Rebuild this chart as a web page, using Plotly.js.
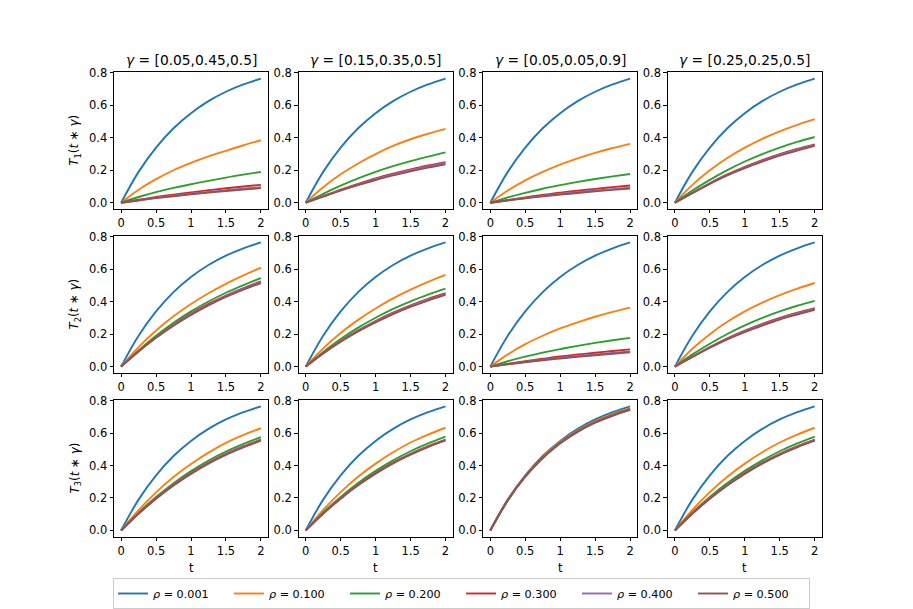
<!DOCTYPE html>
<html>
<head>
<meta charset="utf-8">
<script src="https://cdn.plot.ly/plotly-3.0.1.min.js"></script>
<style>
  html, body { margin: 0; padding: 0; background: #fff; overflow: hidden; width: 913px; height: 609px; }
  #chart { position: absolute; left: 0; top: 0; width: 913px; height: 609px; }
</style>
</head>
<body>
<div id="chart"></div>
<script>
// ─── Data (t grid + one array per panel) ────
const t = [0, 0.25, 0.5, 0.75, 1, 1.25, 1.5, 1.75, 2];

const rhoLabels   = ['0.001', '0.100', '0.200', '0.300', '0.400', '0.500'];
const gammaLabels = ['[0.05,0.45,0.5]', '[0.15,0.35,0.5]', '[0.05,0.05,0.9]', '[0.25,0.25,0.5]'];
const rowLabels   = ['1', '2', '3'];

// ρ = 0.001 curve, same in every panel
const rho001 = [0, 0.190, 0.340, 0.459, 0.552, 0.626, 0.684, 0.729, 0.765];

// row 1 : T1
const r1c1 = [
    rho001,
    [0, 0.080, 0.145, 0.200, 0.245, 0.285, 0.320, 0.354, 0.385],
    [0, 0.035, 0.065, 0.091, 0.114, 0.135, 0.155, 0.173, 0.190],
    [0, 0.018, 0.035, 0.050, 0.064, 0.077, 0.089, 0.100, 0.110],
    [0, 0.015, 0.030, 0.043, 0.055, 0.066, 0.077, 0.086, 0.095],
    [0, 0.014, 0.028, 0.040, 0.052, 0.062, 0.072, 0.081, 0.090]
];
const r1c2 = [
    rho001,
    [0, 0.095, 0.175, 0.242, 0.300, 0.350, 0.391, 0.425, 0.455],
    [0, 0.055, 0.105, 0.150, 0.190, 0.225, 0.256, 0.284, 0.310],
    [0, 0.040, 0.080, 0.116, 0.150, 0.179, 0.205, 0.229, 0.250],
    [0, 0.039, 0.077, 0.112, 0.145, 0.174, 0.200, 0.224, 0.245],
    [0, 0.037, 0.074, 0.108, 0.140, 0.168, 0.193, 0.216, 0.237]
];
const r1c3 = [
    rho001,
    [0, 0.075, 0.138, 0.190, 0.235, 0.273, 0.307, 0.337, 0.363],
    [0, 0.033, 0.061, 0.086, 0.108, 0.128, 0.146, 0.162, 0.177],
    [0, 0.017, 0.033, 0.048, 0.062, 0.074, 0.085, 0.096, 0.106],
    [0, 0.015, 0.029, 0.042, 0.054, 0.065, 0.075, 0.084, 0.093],
    [0, 0.014, 0.027, 0.039, 0.050, 0.060, 0.070, 0.079, 0.088]
];
const r1c4 = [
    rho001,
    [0, 0.110, 0.200, 0.276, 0.340, 0.394, 0.440, 0.480, 0.515],
    [0, 0.075, 0.141, 0.201, 0.254, 0.300, 0.340, 0.375, 0.405],
    [0, 0.061, 0.120, 0.174, 0.221, 0.263, 0.300, 0.332, 0.360],
    [0, 0.060, 0.118, 0.171, 0.217, 0.258, 0.295, 0.327, 0.355],
    [0, 0.059, 0.116, 0.168, 0.213, 0.253, 0.290, 0.321, 0.350]
];

// row 2 : T2
const r2c1 = [
    rho001,
    [0, 0.120, 0.222, 0.310, 0.386, 0.452, 0.510, 0.562, 0.610],
    [0, 0.100, 0.190, 0.270, 0.340, 0.401, 0.455, 0.502, 0.545],
    [0, 0.095, 0.181, 0.258, 0.326, 0.386, 0.438, 0.484, 0.525],
    [0, 0.094, 0.179, 0.255, 0.322, 0.381, 0.434, 0.480, 0.520],
    [0, 0.093, 0.177, 0.252, 0.318, 0.377, 0.429, 0.474, 0.515]
];
const r2c2 = [
    rho001,
    [0, 0.112, 0.207, 0.288, 0.358, 0.420, 0.474, 0.522, 0.565],
    [0, 0.090, 0.170, 0.240, 0.301, 0.355, 0.402, 0.443, 0.480],
    [0, 0.083, 0.157, 0.223, 0.281, 0.332, 0.377, 0.417, 0.452],
    [0, 0.082, 0.155, 0.220, 0.277, 0.328, 0.373, 0.412, 0.447],
    [0, 0.081, 0.153, 0.217, 0.273, 0.324, 0.368, 0.407, 0.442]
];
const r2c3 = [
    rho001,
    [0, 0.075, 0.138, 0.190, 0.235, 0.273, 0.307, 0.337, 0.363],
    [0, 0.033, 0.061, 0.086, 0.108, 0.128, 0.146, 0.162, 0.177],
    [0, 0.017, 0.033, 0.048, 0.062, 0.074, 0.085, 0.096, 0.106],
    [0, 0.015, 0.029, 0.042, 0.054, 0.065, 0.075, 0.084, 0.093],
    [0, 0.014, 0.027, 0.039, 0.050, 0.060, 0.070, 0.079, 0.088]
];
const r2c4 = [
    rho001,
    [0, 0.110, 0.200, 0.276, 0.340, 0.394, 0.440, 0.480, 0.515],
    [0, 0.075, 0.141, 0.201, 0.254, 0.300, 0.340, 0.375, 0.405],
    [0, 0.061, 0.120, 0.174, 0.221, 0.263, 0.300, 0.332, 0.360],
    [0, 0.060, 0.118, 0.171, 0.217, 0.258, 0.295, 0.327, 0.355],
    [0, 0.059, 0.116, 0.168, 0.213, 0.253, 0.290, 0.321, 0.350]
];

// row 3 : T3
const r3c1 = [
    rho001,
    [0, 0.125, 0.235, 0.330, 0.410, 0.480, 0.540, 0.589, 0.630],
    [0, 0.110, 0.206, 0.291, 0.366, 0.431, 0.486, 0.533, 0.575],
    [0, 0.105, 0.199, 0.282, 0.355, 0.418, 0.472, 0.519, 0.560],
    [0, 0.104, 0.197, 0.280, 0.352, 0.415, 0.469, 0.516, 0.557],
    [0, 0.103, 0.195, 0.277, 0.349, 0.412, 0.466, 0.512, 0.553]
];
const r3c2 = [
    rho001,
    [0, 0.126, 0.236, 0.331, 0.412, 0.482, 0.542, 0.591, 0.633],
    [0, 0.111, 0.207, 0.292, 0.367, 0.432, 0.488, 0.536, 0.578],
    [0, 0.105, 0.199, 0.282, 0.355, 0.418, 0.472, 0.519, 0.560],
    [0, 0.104, 0.197, 0.280, 0.352, 0.415, 0.469, 0.516, 0.557],
    [0, 0.103, 0.196, 0.278, 0.350, 0.413, 0.467, 0.514, 0.555]
];
const r3c3 = [
    rho001,
    [0, 0.188, 0.336, 0.453, 0.545, 0.617, 0.674, 0.718, 0.754],
    [0, 0.187, 0.334, 0.450, 0.541, 0.613, 0.669, 0.713, 0.749],
    [0, 0.186, 0.333, 0.448, 0.539, 0.611, 0.667, 0.711, 0.746],
    [0, 0.186, 0.332, 0.447, 0.538, 0.610, 0.666, 0.709, 0.745],
    [0, 0.185, 0.331, 0.446, 0.537, 0.608, 0.664, 0.707, 0.743]
];
const r3c4 = [
    rho001,
    [0, 0.126, 0.236, 0.331, 0.412, 0.482, 0.542, 0.591, 0.633],
    [0, 0.111, 0.207, 0.292, 0.367, 0.432, 0.488, 0.536, 0.578],
    [0, 0.105, 0.199, 0.282, 0.355, 0.418, 0.472, 0.519, 0.560],
    [0, 0.104, 0.197, 0.280, 0.352, 0.415, 0.469, 0.516, 0.557],
    [0, 0.103, 0.195, 0.277, 0.349, 0.412, 0.466, 0.512, 0.553]
];

const panels = [
    [r1c1, r1c2, r1c3, r1c4],
    [r2c1, r2c2, r2c3, r2c4],
    [r3c1, r3c2, r3c3, r3c4]
];

// matplotlib tab10
const COLORS = ['#1f77b4', '#ff7f0e', '#2ca02c', '#d62728', '#9467bd', '#8c564b'];

// ─── Geometry (figure pixels → paper, margins are 0) ──────────────
const W = 913, H = 609;
const COL_LEFT = 114.1, COL_W = 153.8, COL_STEP = 184.6;
const ROW_TOP = 73.1,  ROW_H = 137.9, ROW_STEP = 165.5;
const FONT = 'DejaVu Sans, sans-serif';
const TICK_SIZE = 11.5;

const px = v => v / W;
const py = v => 1 - v / H;

const data = [];
const layout = {
    width: W, height: H,
    margin: { l: 0, r: 0, t: 0, b: 0 },
    paper_bgcolor: '#fff', plot_bgcolor: '#fff',
    font: { family: FONT, size: TICK_SIZE, color: '#000' },
    showlegend: true,
    legend: {
        orientation: 'h', x: px(113), y: py(584), xanchor: 'left', yanchor: 'top',
        bgcolor: '#fff', bordercolor: '#cccccc', borderwidth: 1,
        font: { family: FONT, size: 11.2, color: '#000' },
        entrywidth: 71, entrywidthmode: 'pixels', itemwidth: 30, tracegroupgap: 0
    },
    annotations: []
};

for (let r = 0; r < 3; r++) {
    for (let c = 0; c < 4; c++) {
        const n = r * 4 + c + 1;
        const xk = n === 1 ? 'x' : 'x' + n;
        const yk = n === 1 ? 'y' : 'y' + n;
        const x0 = COL_LEFT + c * COL_STEP, x1 = x0 + COL_W;
        const y0 = ROW_TOP + r * ROW_STEP,  y1 = y0 + ROW_H;

        const common = {
            ticks: 'outside', ticklen: 3.5, tickwidth: 1, tickcolor: '#000',
            showline: true, linecolor: '#000', linewidth: 1, mirror: true,
            showgrid: false, zeroline: false,
            tickfont: { family: FONT, size: TICK_SIZE, color: '#000' }
        };
        layout[xk.replace('x', 'xaxis')] = Object.assign({}, common, {
            domain: [px(x0), px(x1)], anchor: yk,
            range: [-0.1, 2.1], tickvals: [0, 0.5, 1, 1.5, 2], ticktext: ['0', '0.5', '1', '1.5', '2']
        });
        layout[yk.replace('y', 'yaxis')] = Object.assign({}, common, {
            domain: [py(y1), py(y0)], anchor: xk,
            range: [-0.0383, 0.8033], tickvals: [0, 0.2, 0.4, 0.6, 0.8], tickformat: '.1f'
        });

        panels[r][c].forEach((ys, i) => {
            data.push({
                x: t, y: ys, type: 'scatter', mode: 'lines',
                line: { color: COLORS[i], width: 1.9, shape: 'spline' },
                name: `<i>ρ</i> = ${rhoLabels[i]}`,
                legendgroup: 'rho' + i, showlegend: n === 1,
                xaxis: xk, yaxis: yk, hoverinfo: 'skip'
            });
        });

        if (r === 0) {
            layout.annotations.push({
                x: px((x0 + x1) / 2), y: py(y0), xref: 'paper', yref: 'paper',
                xanchor: 'center', yanchor: 'bottom', yshift: 2, showarrow: false,
                text: `<i>γ</i> = ${gammaLabels[c]}`,
                font: { family: FONT, size: 13.8, color: '#000' }
            });
        }
        if (c === 0) {
            layout.annotations.push({
                x: px(75), y: py((y0 + y1) / 2), xref: 'paper', yref: 'paper',
                xanchor: 'center', yanchor: 'middle', textangle: -90, showarrow: false,
                text: `<i>T</i><sub>${rowLabels[r]}</sub>(<i>t</i> ∗ <i>γ</i>)`,
                font: { family: FONT, size: 11.8, color: '#000' }
            });
        }
        if (r === 2) {
            layout.annotations.push({
                x: px((x0 + x1) / 2), y: py(574), xref: 'paper', yref: 'paper',
                xanchor: 'center', yanchor: 'middle', showarrow: false,
                text: 't', font: { family: FONT, size: TICK_SIZE, color: '#000' }
            });
        }
    }
}

Plotly.newPlot('chart', data, layout, { displayModeBar: false, staticPlot: true });
</script>
</body>
</html>
